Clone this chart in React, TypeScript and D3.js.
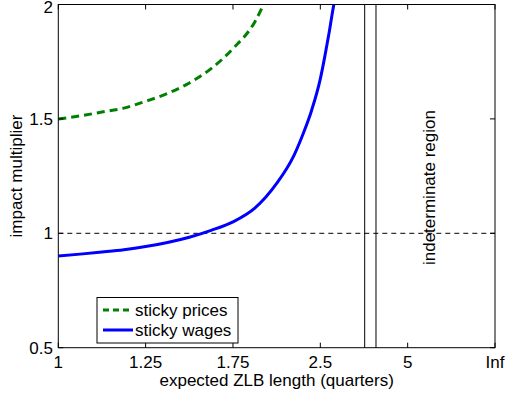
import { scaleLinear, line, curveMonotoneX } from "d3";

// x is the ZLB exit probability, labelled by expected length
const xTicks = [0, 0.2, 0.4, 0.6, 0.8, 1];
const xTickLabels = ["1", "1.25", "1.75", "2.5", "5", "Inf"];
const yTicks = [0.5, 1, 1.5, 2];

const pricesX = [0, 0.05, 0.1, 0.15, 0.2, 0.25, 0.3, 0.35, 0.4, 0.45, 0.475];
const pricesY = [1.5, 1.513, 1.53, 1.547, 1.577, 1.611, 1.657, 1.72, 1.807, 1.924, 2.02];

const wagesX = [0, 0.05, 0.1, 0.15, 0.2, 0.25, 0.3, 0.35, 0.4, 0.45, 0.5, 0.54, 0.56, 0.58, 0.6, 0.61, 0.62, 0.63, 0.635];
const wagesY = [0.901, 0.909, 0.918, 0.928, 0.942, 0.96, 0.983, 1.013, 1.05, 1.11, 1.218, 1.342, 1.432, 1.537, 1.675, 1.77, 1.875, 1.99, 2.04];

const boundaries = [0.7016, 0.7275];
const refLevel = 1;

const W = 507;
const H = 395;
const m = { left: 58.3, right: 495, top: 4.5, bottom: 347.7 };
const FONT = "Liberation Sans, Arial, Helvetica, sans-serif";
const FS = 17;

export default function App() {
  const x = scaleLinear().domain([0, 1]).range([m.left, m.right]);
  const y = scaleLinear().domain([0.5, 2]).range([m.bottom, m.top]);

  const pricesPath = line<number>()
    .x((d) => x(d))
    .y((_, i) => y(pricesY[i]))
    .curve(curveMonotoneX)(pricesX) as string;
  const wagesPath = line<number>()
    .x((d) => x(d))
    .y((_, i) => y(wagesY[i]))
    .curve(curveMonotoneX)(wagesX) as string;

  const tick = 5;

  return (
    <svg
      width={W}
      height={H}
      style={{ position: "absolute", left: 0, top: 0, background: "#fff" }}
      fontFamily={FONT}
      fontSize={FS}
    >
      <defs>
        <clipPath id="plot">
          <rect x={m.left} y={m.top} width={m.right - m.left} height={m.bottom - m.top} />
        </clipPath>
      </defs>
      <rect x={0} y={0} width={W} height={H} fill="#fff" />

      {/* reference line and boundaries */}
      <line
        x1={x(0)}
        x2={x(1)}
        y1={y(refLevel)}
        y2={y(refLevel)}
        stroke="#000"
        strokeWidth={1}
        strokeDasharray="5,4"
      />
      {boundaries.map((b) => (
        <line key={b} x1={x(b)} x2={x(b)} y1={m.top} y2={m.bottom} stroke="#000" strokeWidth={1} />
      ))}

      <g clipPath="url(#plot)">
        <path d={pricesPath} fill="none" stroke="#008000" strokeWidth={3} strokeDasharray="8,5" />
        <path d={wagesPath} fill="none" stroke="#0000ff" strokeWidth={3} />
      </g>

      <text
        transform={`translate(${x(0.863)},${y(1.2)}) rotate(-90)`}
        textAnchor="middle"
      >
        indeterminate region
      </text>

      {/* axes box */}
      <rect
        x={m.left}
        y={m.top}
        width={m.right - m.left}
        height={m.bottom - m.top}
        fill="none"
        stroke="#000"
        strokeWidth={1}
      />
      {xTicks.map((t, i) => (
        <g key={t}>
          <line x1={x(t)} x2={x(t)} y1={m.bottom} y2={m.bottom - tick} stroke="#000" />
          <line x1={x(t)} x2={x(t)} y1={m.top} y2={m.top + tick} stroke="#000" />
          <text x={x(t)} y={368} textAnchor="middle">
            {xTickLabels[i]}
          </text>
        </g>
      ))}
      {yTicks.map((t) => (
        <g key={t}>
          <line x1={m.left} x2={m.left + tick} y1={y(t)} y2={y(t)} stroke="#000" />
          <line x1={m.right} x2={m.right - tick} y1={y(t)} y2={y(t)} stroke="#000" />
          <text x={53} y={Math.max(y(t) + 6, 12.5)} textAnchor="end">
            {t}
          </text>
        </g>
      ))}

      <text x={(m.left + m.right) / 2} y={386} textAnchor="middle">
        expected ZLB length (quarters)
      </text>
      <text transform={`translate(22,${(m.top + m.bottom) / 2}) rotate(-90)`} textAnchor="middle">
        impact multiplier
      </text>

      {/* legend */}
      <rect x={97} y={297.5} width={141} height={45.5} fill="#fff" stroke="#000" strokeWidth={1} />
      <line x1={103} x2={133} y1={310} y2={310} stroke="#008000" strokeWidth={3} strokeDasharray="6,4" />
      <text x={135} y={316}>sticky prices</text>
      <line x1={103} x2={133} y1={330} y2={330} stroke="#0000ff" strokeWidth={3} />
      <text x={135} y={336}>sticky wages</text>
    </svg>
  );
}
